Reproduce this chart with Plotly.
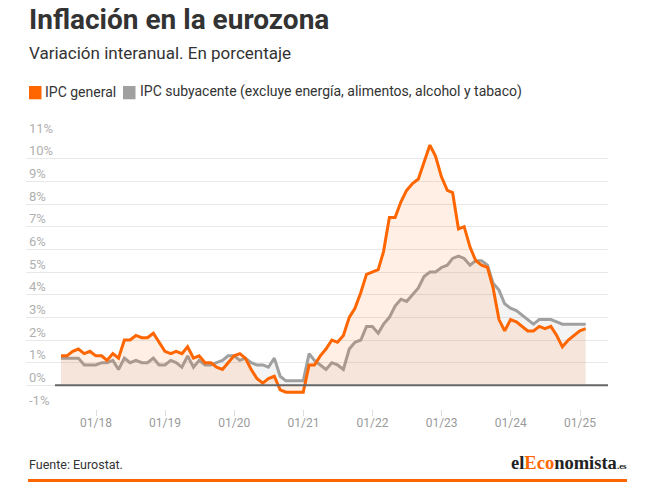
import pandas as pd
import plotly.graph_objects as go

# ---- data (monthly, Jun 2017 - Jan 2025) ----
start_month = "2017-06-30"
ipc_general = [
    1.3, 1.3, 1.5, 1.6, 1.4, 1.5, 1.3,
    1.3, 1.1, 1.4, 1.2, 2.0, 2.0, 2.2, 2.1, 2.1, 2.3, 1.9, 1.5,
    1.4, 1.5, 1.4, 1.7, 1.2, 1.3, 1.0, 1.0, 0.8, 0.7, 1.0, 1.3,
    1.4, 1.2, 0.7, 0.3, 0.1, 0.3, 0.4, -0.2, -0.3, -0.3, -0.3, -0.3,
    0.9, 0.9, 1.3, 1.6, 2.0, 1.9, 2.2, 3.0, 3.4, 4.1, 4.9, 5.0,
    5.1, 5.9, 7.4, 7.4, 8.1, 8.6, 8.9, 9.1, 9.8, 10.6, 10.1, 9.2,
    8.6, 8.5, 6.9, 7.0, 6.1, 5.5, 5.3, 5.2, 4.3, 2.9, 2.4, 2.9,
    2.8, 2.6, 2.4, 2.4, 2.6, 2.5, 2.6, 2.2, 1.7, 2.0, 2.2, 2.4,
    2.5,
]
ipc_subyacente = [
    1.2, 1.2, 1.2, 1.2, 0.9, 0.9, 0.9,
    1.0, 1.0, 1.1, 0.7, 1.2, 1.0, 1.1, 1.0, 1.0, 1.2, 0.9, 0.9,
    1.1, 1.0, 0.8, 1.3, 0.8, 1.1, 0.9, 0.9, 1.0, 1.1, 1.3, 1.3,
    1.1, 1.2, 1.0, 0.9, 0.9, 0.8, 1.2, 0.4, 0.2, 0.2, 0.2, 0.2,
    1.4, 1.1, 0.9, 0.7, 1.0, 0.9, 0.7, 1.6, 1.9, 2.0, 2.6, 2.6,
    2.3, 2.7, 3.0, 3.5, 3.8, 3.7, 4.0, 4.3, 4.8, 5.0, 5.0, 5.2,
    5.3, 5.6, 5.7, 5.6, 5.3, 5.5, 5.5, 5.3, 4.5, 4.2, 3.6, 3.4,
    3.3, 3.1, 2.9, 2.7, 2.9, 2.9, 2.9, 2.8, 2.7, 2.7, 2.7, 2.7,
    2.7,
]
fechas = pd.date_range(start_month, periods=len(ipc_general), freq="ME")

series_names = ["IPC general", "IPC subyacente (excluye energía, alimentos, alcohol y tabaco)"]
x_tick_dates = pd.date_range("2018-01-01", "2025-01-01", freq="YS")
x_tick_labels = [d.strftime("%m/%y") for d in x_tick_dates]
y_ticks = list(range(-1, 12))
y_tick_labels = [f"{v}%" for v in y_ticks]

title_text = "Inflación en la eurozona"
subtitle_text = "Variación interanual. En porcentaje"
source_text = "Fuente: Eurostat."

ORANGE = "#ff6600"
GRAY = "#a0a0a0"
FONT = "Roboto"

W, H = 650, 488
L, R, T, B = 26, 42, 135, 79


def px_x(x):
    return (x - L) / (W - L - R)


def px_y(y):
    return (H - B - y) / (H - T - B)


fig = go.Figure()
fig.add_trace(go.Scatter(
    x=fechas, y=ipc_subyacente, name=series_names[1], mode="lines",
    line=dict(color=GRAY, width=3), fill="tozeroy",
    fillcolor="rgba(150,150,150,0.1)", showlegend=False, hoverinfo="skip"))
fig.add_trace(go.Scatter(
    x=fechas, y=ipc_general, name=series_names[0], mode="lines",
    line=dict(color=ORANGE, width=3), fill="tozeroy",
    fillcolor="rgba(255,102,0,0.1)", showlegend=False, hoverinfo="skip"))

fig.update_layout(
    width=W, height=H,
    margin=dict(l=L, r=R, t=T, b=B, pad=0, autoexpand=False),
    paper_bgcolor="white", plot_bgcolor="white",
    font=dict(family=FONT, color="#333"),
    xaxis=dict(
        type="date", range=["2016-12-27 05:00", "2025-05-28 22:00"], automargin=False,
        tickvals=x_tick_dates, ticktext=x_tick_labels,
        showgrid=False, zeroline=False, showline=False,
        ticks="outside", ticklen=6, tickcolor="#dddddd", tickwidth=1,
        ticklabelstandoff=-3,
        tickfont=dict(family=FONT, size=12, color="#9a9a9a"),
    ),
    yaxis=dict(
        range=[-1.044, 11.044], tickvals=y_ticks, ticktext=y_tick_labels, automargin=False,
        showgrid=True, gridcolor="#e8e8e8", gridwidth=1,
        zeroline=False, showline=False, ticks="",
        ticklabelposition="inside", ticklabelshift=-8, ticklabelstandoff=0,
        ticklabeloverflow="allow",
        tickfont=dict(family=FONT, size=13, color="#b0b0b0"),
    ),
)

# zero baseline
fig.add_shape(type="line", xref="paper", yref="y", x0=px_x(55), x1=1, y0=0, y1=0,
              line=dict(color="#666666", width=2))

ann = []
ann.append(dict(text=f"<b>{title_text}</b>", x=px_x(27), y=px_y(19), xanchor="left", yanchor="middle",
                font=dict(family=FONT, size=28, color="#333")))
ann.append(dict(text=subtitle_text, x=px_x(27), y=px_y(53), xanchor="left", yanchor="middle",
                font=dict(family=FONT, size=17, color="#333")))
# legend
fig.add_shape(type="rect", xref="paper", yref="paper", x0=px_x(29), x1=px_x(41.5), y0=px_y(99.3), y1=px_y(86),
              fillcolor=ORANGE, line=dict(width=0))
fig.add_shape(type="rect", xref="paper", yref="paper", x0=px_x(123), x1=px_x(135.5), y0=px_y(99.3), y1=px_y(86),
              fillcolor=GRAY, line=dict(width=0))
ann.append(dict(text=series_names[0], x=px_x(43), y=px_y(92), xanchor="left", yanchor="middle",
                font=dict(family=FONT, size=14, color="#333")))
ann.append(dict(text=series_names[1], x=px_x(138), y=px_y(92), xanchor="left", yanchor="middle",
                font=dict(family=FONT, size=14, color="#333")))
# footer
ann.append(dict(text=source_text, x=px_x(27), y=px_y(464.5), xanchor="left", yanchor="middle",
                font=dict(family=FONT, size=12.5, color="#333")))
ann.append(dict(text="<b>el<span style='color:#ff6600'>Eco</span>nomista<span style='font-size:9px'>.es</span></b>",
                x=px_x(629), y=px_y(462.7), xanchor="right", yanchor="middle",
                font=dict(family="Liberation Serif", size=18.5, color="#222")))
fig.add_shape(type="line", xref="paper", yref="paper", x0=px_x(28), x1=px_x(627), y0=px_y(480.5), y1=px_y(480.5),
              line=dict(color=ORANGE, width=3))

for a in ann:
    a.update(xref="paper", yref="paper", showarrow=False)
fig.update_layout(annotations=ann)

fig.write_html("out.html", config={"displayModeBar": False},
               post_script="document.body.style.margin='0';document.body.style.overflow='hidden';")
